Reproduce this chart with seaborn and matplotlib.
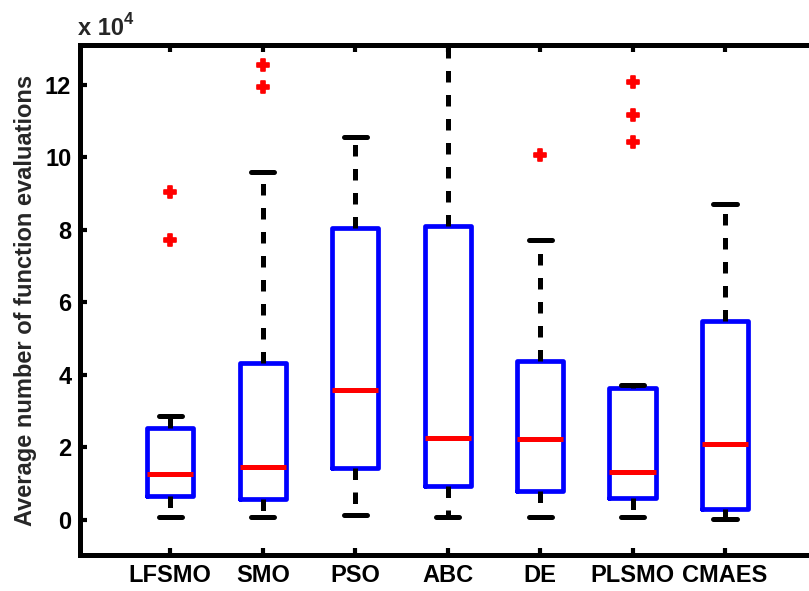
import numpy as np
import pandas as pd
import matplotlib
matplotlib.use("Agg")
import matplotlib.pyplot as plt
import seaborn as sns

# ---- data (function evaluations) ----
methods = ["LFSMO", "SMO", "PSO", "ABC", "DE", "PLSMO", "CMAES"]
lower_whisker = [740, 740, 1400, 900, 900, 740, 200]
q1 = [6700, 5700, 14400, 9400, 8100, 6000, 3000]
median = [12600, 14700, 35800, 22700, 22200, 13100, 20900]
q3 = [25400, 43200, 80400, 81000, 43900, 36400, 54900]
upper_whisker = [28700, 96000, 105500, 140000, 77100, 37200, 87100]

outlier_method = ["LFSMO", "LFSMO", "SMO", "SMO", "DE", "PLSMO", "PLSMO", "PLSMO"]
outlier_value = [90400, 77100, 125300, 119400, 100700, 120700, 111500, 104100]

yticks = [0, 20000, 40000, 60000, 80000, 100000, 120000]
ytick_labels = ["0", "2", "4", "6", "8", "10", "12"]

# ---- long table for seaborn ----
rows = []
for i, m in enumerate(methods):
    for v in (lower_whisker[i], q1[i], median[i], q3[i], upper_whisker[i]):
        rows.append({"method": m, "value": v})
df = pd.DataFrame(rows)
out_df = pd.DataFrame({"method": outlier_method, "value": outlier_value})

sns.set_style("ticks")
plt.rcParams["font.family"] = ["Liberation Sans", "DejaVu Sans"]
plt.rcParams["font.weight"] = "bold"

fig = plt.figure(figsize=(8.09, 5.91), dpi=100)
ax = fig.add_axes([0.0985, 0.0601, 0.912, 0.8638])

dash = (0, (2.3, 2.5))
sns.boxplot(
    data=df, x="method", y="value", order=methods, ax=ax,
    whis=np.inf, width=0.5, fill=False, color="blue",
    boxprops=dict(color="#0000FF", linewidth=3.4),
    medianprops=dict(color="#FF0000", linewidth=3.6),
    whiskerprops=dict(color="black", linewidth=3.6, linestyle=dash),
    capprops=dict(color="black", linewidth=3.6),
    showfliers=False,
)
sns.stripplot(
    data=out_df, x="method", y="value", order=methods, ax=ax,
    jitter=False, color="#FF0000", marker="P", size=8,
    linewidth=1.2, edgecolor="#FF0000", zorder=5,
)

ax.set_xlim(-0.98, 7)
ax.set_ylim(-9800, 130900)
ax.set_yticks(yticks)
ax.set_yticklabels(ytick_labels)
ax.set_xticks(range(len(methods)))
ax.set_xticklabels(methods)
ax.set_xlabel("")
ax.set_ylabel("Average number of function evaluations", fontsize=17, fontweight="bold")
ax.yaxis.set_label_coords(-0.058, 0.5)

for s in ax.spines.values():
    s.set_linewidth(3.6)
    s.set_visible(True)
    s.set_color("black")
ax.tick_params(direction="in", top=True, right=True, length=5, width=3,
               labelsize=17, pad=6, colors="black")
for lab in ax.get_xticklabels() + ax.get_yticklabels():
    lab.set_fontweight("bold")

fig.text(78 / 809, 1 - 35 / 591, "x 10", fontsize=17, fontweight="bold",
         ha="left", va="baseline")
fig.text(124 / 809, 1 - 23.5 / 591, "4", fontsize=12, fontweight="bold",
         ha="left", va="baseline")

fig.savefig("out.png", dpi=100)
